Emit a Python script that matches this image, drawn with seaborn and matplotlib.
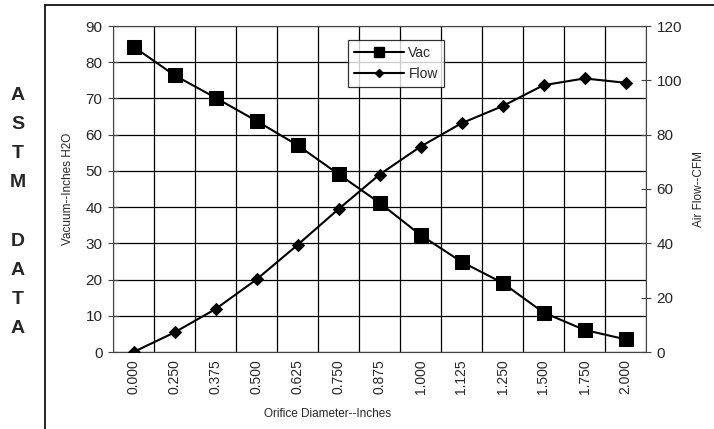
import matplotlib
matplotlib.use("Agg")
import matplotlib.pyplot as plt
import seaborn as sns
import numpy as np
import pandas as pd
from matplotlib.lines import Line2D

categories = ["0.000", "0.250", "0.375", "0.500", "0.625", "0.750", "0.875",
              "1.000", "1.125", "1.250", "1.500", "1.750", "2.000"]
vac = [84.3, 76.4, 70.2, 63.8, 57.1, 49.1, 41.2, 32.3, 24.9, 19.1, 10.9, 6.1, 3.5]
flow = [0.0, 7.2, 15.8, 26.7, 39.4, 52.6, 65.3, 75.6, 84.2, 90.5, 98.2, 100.7, 99.1]
left_ticks = [0, 10, 20, 30, 40, 50, 60, 70, 80, 90]
right_ticks = [0, 20, 40, 60, 80, 100, 120]

sns.set_style("white")
plt.rcParams['font.family'] = ['Liberation Sans', 'DejaVu Sans']

df = pd.DataFrame({"pos": np.arange(len(categories)), "Vac": vac, "Flow": flow})

fig = plt.figure(figsize=(7.14, 4.29), dpi=100)
ax = fig.add_axes([113/714, 1-352/429, (646-113)/714, (352-26)/429])
ax2 = ax.twinx()

sns.lineplot(data=df, x="pos", y="Vac", ax=ax, color="black", lw=1.5,
             marker="s", markersize=9.5, markeredgecolor="black", legend=False)
sns.lineplot(data=df, x="pos", y="Flow", ax=ax2, color="black", lw=1.5,
             marker="D", markersize=6.5, markeredgecolor="black", legend=False)

n = len(categories)
ax.set_xlim(-0.5, n - 0.5)
ax.set_ylim(0, 90)
ax2.set_ylim(0, 120)
ax.set_yticks(left_ticks)
ax2.set_yticks(right_ticks)
ax.set_xticks(np.arange(n + 1) - 0.5)
ax.set_xticklabels([])
ax.set_xticks(np.arange(n), minor=True)
ax.set_xticklabels(categories, minor=True, rotation=90, fontsize=10)
ax.tick_params(axis="x", which="major", direction="inout", length=7, width=0.8, color="#444444")
ax.tick_params(axis="x", which="minor", length=0, pad=5)
ax.tick_params(axis="y", direction="inout", length=7, width=0.8, labelsize=11, pad=4, color="#444444")
ax2.tick_params(axis="y", direction="inout", length=7, width=0.8, labelsize=11, pad=4, color="#444444")

ax.grid(True, which="major", color="black", lw=0.9)
ax.set_axisbelow(True)
for a in (ax, ax2):
    for s in a.spines.values():
        s.set_visible(False)
ax.spines["left"].set_visible(True)
ax.spines["left"].set_color("#444444")
ax2.spines["right"].set_visible(True)
ax2.spines["right"].set_color("#444444")
ax.spines["bottom"].set_visible(True)
ax.spines["bottom"].set_color("#444444")
ax.spines["top"].set_visible(True)
ax.spines["top"].set_color("#444444")

ax.set_xlabel("")
ax.set_ylabel("Vacuum--Inches H2O", fontsize=8.5, labelpad=8)
ax2.set_ylabel("Air Flow--CFM", fontsize=8.5, labelpad=8)
fig.text(328/714, 1-414/429, "Orifice Diameter--Inches", ha="center", va="center", fontsize=8.5)

handles = [Line2D([], [], color="black", lw=1.5, marker="s", markersize=6.5),
           Line2D([], [], color="black", lw=1.5, marker="D", markersize=4)]
leg = fig.legend(handles, ["Vac", "Flow"], loc="upper left",
                 bbox_to_anchor=(348/714, 1-40/429), borderaxespad=0, fontsize=10,
                 frameon=True, fancybox=False, edgecolor="black",
                 handlelength=3.6, borderpad=0.45, labelspacing=0.5, handletextpad=0.3)
leg.get_frame().set_linewidth(0.9)

fig.text(18/714, 1-212/429, "A\nS\nT\nM\n\nD\nA\nT\nA", ha="center", va="center",
         fontsize=14, fontweight="bold", linespacing=1.93)

fig.add_artist(Line2D([45/714, 1.0], [1-5/429, 1-5/429], color="black", lw=1.2, transform=fig.transFigure))
fig.add_artist(Line2D([45/714, 45/714], [1-5/429, 0.0], color="black", lw=1.2, transform=fig.transFigure))

fig.savefig("out.png", dpi=100)
